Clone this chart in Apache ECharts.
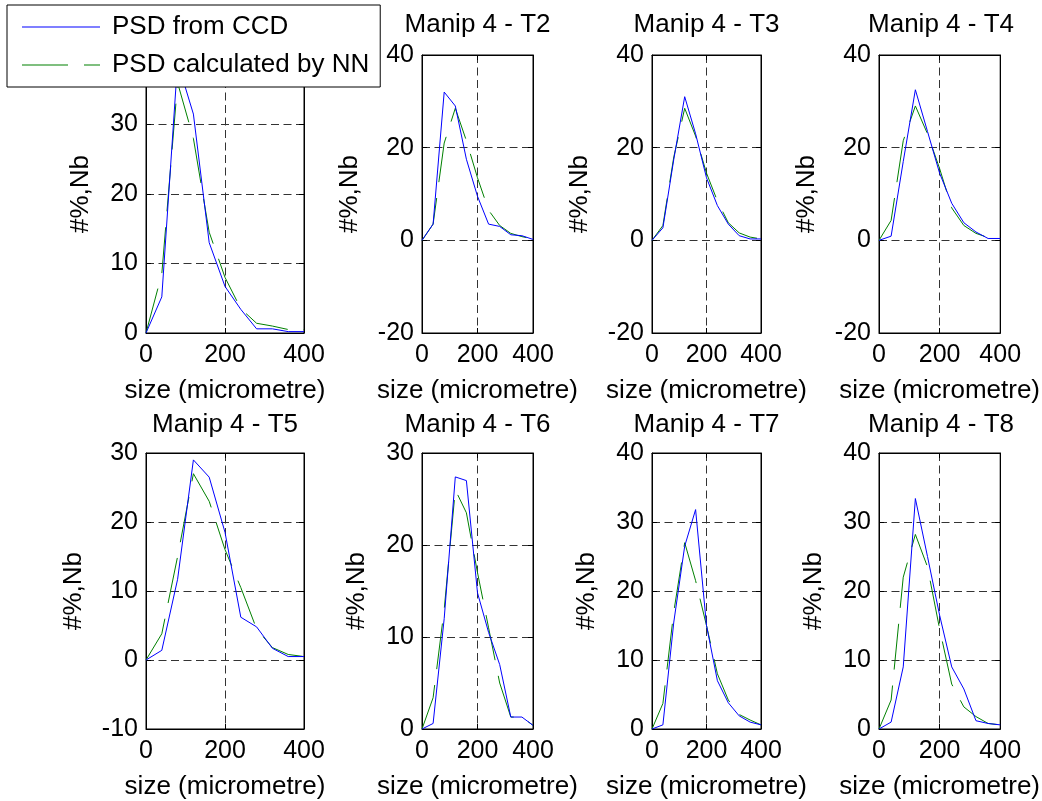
<!DOCTYPE html>
<html>
<head>
<meta charset="utf-8">
<script src="https://cdn.jsdelivr.net/npm/echarts@6/dist/echarts.min.js"></script>
<style>
html, body { margin: 0; padding: 0; background: #fff; }
#chart { width: 1042px; height: 801px; }
</style>
</head>
<body>
<div id="chart"></div>
<script>
// ---- data ----
const sizes = [0, 40, 80, 120, 160, 200, 240, 280, 320, 360, 400];

const ccdT1 = [0, 5.2, 39, 31.5, 13, 6.7, 3.4, 0.6, 0.6, 0.2, 0.2];
const nnT1  = [0, 8.5, 36, 28, 14.5, 8, 3.5, 1.4, 1.0, 0.5, 0.5];
const ccdT2 = [0, 3.5, 32, 29, 17.5, 9.5, 3.5, 3.0, 1.2, 1.0, 0.2];
const nnT2  = [0, 3.5, 21, 28.5, 21.5, 13.5, 6.5, 3.2, 1.5, 0.8, 0.3];
const ccdT3 = [0, 2.7, 17.5, 31, 23, 13.5, 7.5, 3.5, 1.0, 0.3, 0.3];
const nnT3  = [0, 3.2, 18, 28.5, 22.5, 14.5, 8.5, 3.8, 1.6, 0.7, 0.3];
const ccdT4 = [0, 0.9, 17, 32.5, 23.5, 14.5, 8, 3.8, 1.8, 0.4, 0.4];
const nnT4  = [0, 4.3, 21.5, 29, 23, 15.5, 7, 3.2, 1.5, 0.6, 0.5];
const ccdT5 = [0, 1.4, 11.7, 29, 26.5, 18.5, 6.2, 4.8, 1.7, 0.5, 0.5];
const nnT5  = [0, 3.8, 15, 27, 23, 16, 10.5, 4.5, 1.8, 0.8, 0.5];
const ccdT6 = [0, 0.6, 12, 27.4, 27, 14.8, 10.5, 7, 1.3, 1.3, 0.4];
const nnT6  = [0, 3.4, 13, 26, 23.5, 17, 11, 5, 1.3, 1.3, 0.4];
const ccdT7 = [0, 0.6, 15.5, 26.5, 31.8, 15, 7, 3.8, 1.9, 1.0, 0.6];
const nnT7  = [0, 3.7, 17, 27, 21.5, 15, 8, 4.2, 2.1, 1.3, 0.6];
const ccdT8 = [0, 1, 9, 33.4, 25, 16.5, 9, 5.8, 1.2, 0.8, 0.6];
const nnT8  = [0, 4.2, 22, 28.2, 23.5, 14.5, 6.5, 3.2, 1.8, 0.8, 0.6];

const ccdSeries = [ccdT1, ccdT2, ccdT3, ccdT4, ccdT5, ccdT6, ccdT7, ccdT8];
const nnSeries  = [nnT1, nnT2, nnT3, nnT4, nnT5, nnT6, nnT7, nnT8];

// T1 title is hidden behind the legend in the reference
const panelTitles = ['', 'Manip 4 - T2', 'Manip 4 - T3', 'Manip 4 - T4',
                     'Manip 4 - T5', 'Manip 4 - T6', 'Manip 4 - T7', 'Manip 4 - T8'];
const yMins  = [0, -20, -20, -20, -10, 0, 0, 0];
const yMaxs  = [40, 40, 40, 40, 30, 30, 40, 40];
const ySteps = [10, 20, 20, 20, 10, 10, 10, 10];
const xMin = 0, xMax = 400, xStep = 200;

const legendNames = ['PSD from CCD', 'PSD calculated by NN'];
const xAxisLabel = 'size (micrometre)';
const yAxisLabel = '#%,Nb';

// ---- layout ----
const colLefts  = [146, 422, 652, 879];
const colWidths = [158, 111, 109, 124];
const rowTops   = [55, 453];
const plotH     = 278;

const FONT = 'Liberation Sans, Arial, Helvetica, sans-serif';
const BLUE = '#0000ff';
const GREEN = '#008000';
const NN_DASH = [46, 16];
const GRID_DASH = [8, 4.5];

const grid = [], xAxis = [], yAxis = [], series = [], title = [];

for (let i = 0; i < 8; i++) {
  const r = Math.floor(i / 4), c = i % 4;
  grid.push({
    left: colLefts[c], top: rowTops[r], width: colWidths[c], height: plotH,
    show: true, borderColor: '#000', borderWidth: 1, backgroundColor: '#fff'
  });
  const hasNeg = yMins[i] < 0;
  // bottom x axis
  xAxis.push({
    type: 'value', gridIndex: i, min: xMin, max: xMax, interval: xStep,
    position: 'bottom',
    name: xAxisLabel, nameLocation: 'middle', nameGap: 45,
    nameTextStyle: { fontSize: 26, color: '#000', fontFamily: FONT },
    axisLine: { show: true, onZero: false, lineStyle: { color: '#000', width: 1 } },
    axisTick: { show: true, inside: true, length: 5, lineStyle: { color: '#000' } },
    axisLabel: { show: true, fontSize: 25, color: '#000', fontFamily: FONT, margin: 10 },
    splitLine: { show: true, lineStyle: { color: '#333', type: GRID_DASH, width: 1 } }
  });
  // top x axis (ticks only)
  xAxis.push({
    type: 'value', gridIndex: i, min: xMin, max: xMax, interval: xStep,
    position: 'top',
    axisLine: { show: true, onZero: false, lineStyle: { color: '#000', width: 1 } },
    axisTick: { show: true, inside: true, length: 5, lineStyle: { color: '#000' } },
    axisLabel: { show: false },
    splitLine: { show: false }
  });
  // left y axis
  yAxis.push({
    type: 'value', gridIndex: i, min: yMins[i], max: yMaxs[i], interval: ySteps[i],
    position: 'left',
    name: yAxisLabel, nameLocation: 'middle', nameGap: hasNeg ? 59 : 52,
    nameTextStyle: { fontSize: 26, color: '#000', fontFamily: FONT },
    axisLine: { show: true, onZero: false, lineStyle: { color: '#000', width: 1 } },
    axisTick: { show: true, inside: true, length: 5, lineStyle: { color: '#000' } },
    axisLabel: { show: true, fontSize: 25, color: '#000', fontFamily: FONT, margin: 8 },
    splitLine: { show: true, lineStyle: { color: '#333', type: GRID_DASH, width: 1 } }
  });
  // right y axis (ticks only)
  yAxis.push({
    type: 'value', gridIndex: i, min: yMins[i], max: yMaxs[i], interval: ySteps[i],
    position: 'right',
    axisLine: { show: true, onZero: false, lineStyle: { color: '#000', width: 1 } },
    axisTick: { show: true, inside: true, length: 5, lineStyle: { color: '#000' } },
    axisLabel: { show: false },
    splitLine: { show: false }
  });

  series.push({
    name: legendNames[0], type: 'line', xAxisIndex: 2 * i, yAxisIndex: 2 * i,
    data: sizes.map((x, k) => [x, ccdSeries[i][k]]),
    showSymbol: false, symbol: 'none', animation: false,
    lineStyle: { color: BLUE, width: 1 }, itemStyle: { color: BLUE }, z: 3
  });
  series.push({
    name: legendNames[1], type: 'line', xAxisIndex: 2 * i, yAxisIndex: 2 * i,
    data: sizes.map((x, k) => [x, nnSeries[i][k]]),
    showSymbol: false, symbol: 'none', animation: false,
    lineStyle: { color: GREEN, width: 1, type: NN_DASH }, itemStyle: { color: GREEN }, z: 2
  });

  if (panelTitles[i]) {
    title.push({
      text: panelTitles[i],
      left: colLefts[c] + colWidths[c] / 2, textAlign: 'center',
      top: r === 0 ? 12 : 412, padding: 0,
      textStyle: { fontSize: 26, fontWeight: 'normal', color: '#000', fontFamily: FONT }
    });
  }
}

const chart = echarts.init(document.getElementById('chart'), null, { renderer: 'canvas' });
chart.setOption({
  backgroundColor: '#fff',
  animation: false,
  title: title,
  legend: {
    left: 7, top: 5, orient: 'vertical',
    data: [
      { name: legendNames[0], icon: 'path://M0,0h78v1h-78z', itemStyle: { color: BLUE } },
      { name: legendNames[1], icon: 'path://M0,0h46v1h-46zM62,0h16v1h-16z', itemStyle: { color: GREEN } }
    ],
    itemWidth: 78, itemHeight: 1, itemGap: 12,
    backgroundColor: '#fff', borderColor: '#000', borderWidth: 1, borderRadius: 0,
    padding: [9, 11, 9, 15],
    selectedMode: false,
    textStyle: { fontSize: 26, color: '#000', fontFamily: FONT, padding: [0, 0, 0, 7] },
    z: 20
  },
  grid: grid,
  xAxis: xAxis,
  yAxis: yAxis,
  series: series
});
</script>
</body>
</html>
